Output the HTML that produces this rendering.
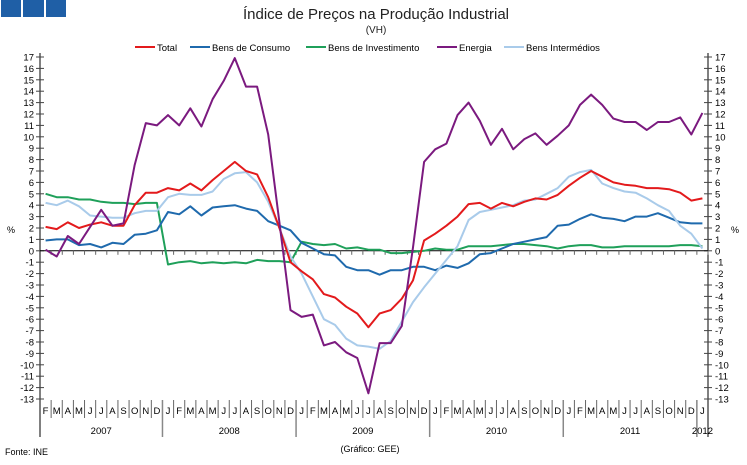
<!DOCTYPE html>
<html><head><meta charset="utf-8"><style>
body{margin:0;background:#fff;font-family:"Liberation Sans",sans-serif}
svg{display:block}
</style></head><body>
<svg id="chart" width="747" height="465" viewBox="0 0 747 465" xmlns="http://www.w3.org/2000/svg">
<rect x="1" y="0" width="20" height="17" fill="#1f5fa6"/>
<rect x="23" y="0" width="21" height="17" fill="#1f5fa6"/>
<rect x="46" y="0" width="20" height="17" fill="#1f5fa6"/>
<text x="376" y="19" text-anchor="middle" font-size="15" fill="#222">Índice de Preços na Produção Industrial</text>
<text x="376" y="33" text-anchor="middle" font-size="10" fill="#222">(VH)</text>
<g id="legend"></g>
<g id="axes"></g>
<g id="series"></g>
<text x="5" y="455" font-size="9" fill="#000">Fonte: INE</text>
<text x="370" y="452" text-anchor="middle" font-size="9" fill="#000">(Gráfico: GEE)</text>
</svg>
<script>
const months = ["F","M","A","M","J","J","A","S","O","N","D","J","F","M","A","M","J","J","A","S","O","N","D","J","F","M","A","M","J","J","A","S","O","N","D","J","F","M","A","M","J","J","A","S","O","N","D","J","F","M","A","M","J","J","A","S","O","N","D","J"];
const yearLabels = ["2007","2008","2009","2010","2011","2012"];
const yTicks = [17,16,15,14,13,12,11,10,9,8,7,6,5,4,3,2,1,0,-1,-2,-3,-4,-5,-6,-7,-8,-9,-10,-11,-12,-13];
const seriesNames = ["Total","Bens de Consumo","Bens de Investimento","Energia","Bens Intermédios"];
const total = [2.1,1.9,2.5,2.0,2.3,2.5,2.2,2.2,4.0,5.1,5.1, 5.5,5.3,5.9,5.3,6.2,7.0,7.8,7.0,6.7,4.7,2.0,-1.0, -1.8,-2.5,-3.8,-4.1,-4.9,-5.5,-6.7,-5.5,-5.2,-4.2,-2.6,0.9, 1.5,2.2,3.0,4.1,4.2,3.7,4.2,3.9,4.3,4.6,4.5,4.9, 5.7,6.4,7.0,6.5,6.0,5.8,5.7,5.5,5.5,5.4,5.1,4.4, 4.6];
const consumo = [0.9,1.0,1.0,0.5,0.6,0.3,0.7,0.6,1.4,1.5,1.8, 3.4,3.2,3.9,3.1,3.8,3.9,4.0,3.7,3.5,2.6,2.2,1.8, 0.7,0.2,-0.3,-0.4,-1.4,-1.7,-1.7,-2.1,-1.7,-1.7,-1.4,-1.4, -1.7,-1.3,-1.5,-1.1,-0.3,-0.2,0.2,0.6,0.8,1.0,1.2,2.2, 2.3,2.8,3.2,2.9,2.8,2.6,3.0,3.0,3.3,2.9,2.5,2.4, 2.4];
const investimento = [5.0,4.7,4.7,4.5,4.5,4.3,4.2,4.2,4.1,4.2,4.2, -1.2,-1.0,-0.9,-1.1,-1.0,-1.1,-1.0,-1.1,-0.8,-0.9,-0.9,-1.0, 0.8,0.6,0.5,0.6,0.2,0.3,0.1,0.1,-0.2,-0.2,-0.1,0.0, 0.2,0.1,0.1,0.4,0.4,0.4,0.5,0.6,0.6,0.5,0.4,0.2, 0.4,0.5,0.5,0.3,0.3,0.4,0.4,0.4,0.4,0.4,0.5,0.5, 0.4];
const energia = [0.1,-0.5,1.3,0.6,2.1,3.6,2.2,2.4,7.5,11.2,11.0, 11.9,11.0,12.5,10.9,13.3,14.9,16.9,14.4,14.4,10.2,2.5,-5.2, -5.8,-5.6,-8.3,-8.0,-8.9,-9.4,-12.5,-8.1,-8.1,-6.6,0.3,7.8, 8.9,9.4,11.9,13.0,11.4,9.3,10.7,8.9,9.8,10.3,9.3,10.1, 11.0,12.8,13.7,12.8,11.6,11.3,11.3,10.6,11.3,11.3,11.7,10.2, 12.1];
const intermedios = [4.2,4.0,4.4,3.9,3.1,3.0,2.9,2.9,3.3,3.5,3.5, 4.7,5.0,4.9,4.9,5.2,6.3,6.8,6.9,6.0,4.3,2.0,-0.5, -2.0,-4.0,-6.0,-6.5,-7.7,-8.3,-8.4,-8.6,-7.9,-6.2,-4.5,-3.2, -2.0,-0.8,0.4,2.7,3.4,3.6,3.8,4.0,4.4,4.5,5.0,5.5, 6.5,6.9,7.1,5.9,5.5,5.2,5.1,4.6,4.0,3.5,2.2,1.5, 0.2];
const seriesData = [total, consumo, investimento, energia, intermedios];
const colors = ["#e31a1c","#1f6aad","#1fa05a","#7b1a7f","#a9cbea"];

const NS="http://www.w3.org/2000/svg";
const L=40, R=708, T=57, B=399, YMAX=17, YMIN=-13;
const band=(R-L)/months.length;
function X(i){return L+band*(i+0.5);}
function Y(v){return T+(YMAX-v)/(YMAX-YMIN)*(B-T);}
function mk(tag,attrs,parent){const e=document.createElementNS(NS,tag);for(const k in attrs)e.setAttribute(k,attrs[k]);parent.appendChild(e);return e;}
const axes=document.getElementById('axes'), ser=document.getElementById('series'), leg=document.getElementById('legend');

// y axes
let e=mk('line',{x1:L,y1:T-4,x2:L,y2:437,stroke:'#000','stroke-width':1},axes);


e=mk('line',{x1:R,y1:T-4,x2:R,y2:437,stroke:'#000','stroke-width':1},axes);


yTicks.forEach(v=>{
  const y=Y(v);
  mk('line',{x1:L-4,y1:y,x2:L+4,y2:y,stroke:'#444'},axes);
  mk('line',{x1:R-4,y1:y,x2:R+4,y2:y,stroke:'#444'},axes);
  let t=mk('text',{x:L-6,y:y+3.5,'text-anchor':'end','font-size':9.5,fill:'#000'},axes);
  t.textContent=v;
  
  
  t=mk('text',{x:R+7,y:y+3.5,'font-size':9.5,fill:'#000'},axes);
  t.textContent=v;
  
  
});
e=mk('text',{x:7,y:233,'font-size':9,fill:'#000'},axes); e.textContent='%';


e=mk('text',{x:731,y:233,'font-size':9,fill:'#000'},axes); e.textContent='%';


// zero line
e=mk('line',{x1:L,y1:Y(0),x2:R,y2:Y(0),stroke:'#000','stroke-width':1},axes);


// month labels & separators
months.forEach((m,i)=>{
  const x0=L+band*i;
  mk('line',{x1:x0+band,y1:Y(0),x2:x0+band,y2:Y(0)+4,stroke:'#666'},axes);
  if(i>0) mk('line',{x1:x0,y1:400,x2:x0,y2:418,stroke:'#666'},axes);
  const t=mk('text',{x:X(i),y:414,'text-anchor':'middle','font-size':9.5,fill:'#000'},axes);
  t.textContent=m;
  
  
});
// year separators & labels
let start=0;
const yearStarts=[0]; months.forEach((m,i)=>{if(i>0&&m==='J'&&months[i-1]==='D')yearStarts.push(i);});
yearStarts.forEach((s,k)=>{
  const end=k+1<yearStarts.length?yearStarts[k+1]:months.length;
  if(s>0) mk('line',{x1:L+band*s,y1:400,x2:L+band*s,y2:437,stroke:'#888','stroke-width':1.5},axes);
  const t=mk('text',{x:(L+band*s+L+band*end)/2,y:434,'text-anchor':'middle','font-size':9.5,fill:'#000'},axes);
  t.textContent=yearLabels[k];
  
  
});
// series
const order=[2,1,4,0,3];
order.forEach(s=>{
  const d=seriesData[s].map((v,i)=>(i?'L':'M')+X(i).toFixed(1)+' '+Y(v).toFixed(1)).join(' ');
  const p=mk('path',{d:d,fill:'none',stroke:colors[s],'stroke-width':2,'stroke-linejoin':'round'},ser);
  
  
});
// legend
const legX=[135,190,306,437,504];
seriesNames.forEach((n,i)=>{
  const g=mk('g',{},leg);
  
  
  mk('line',{x1:legX[i],y1:47,x2:legX[i]+20,y2:47,stroke:colors[i],'stroke-width':2},g);
  const t=mk('text',{x:legX[i]+22,y:51,'font-size':9.5,fill:'#000'},g);
  t.textContent=n;
});
</script>
</body></html>
